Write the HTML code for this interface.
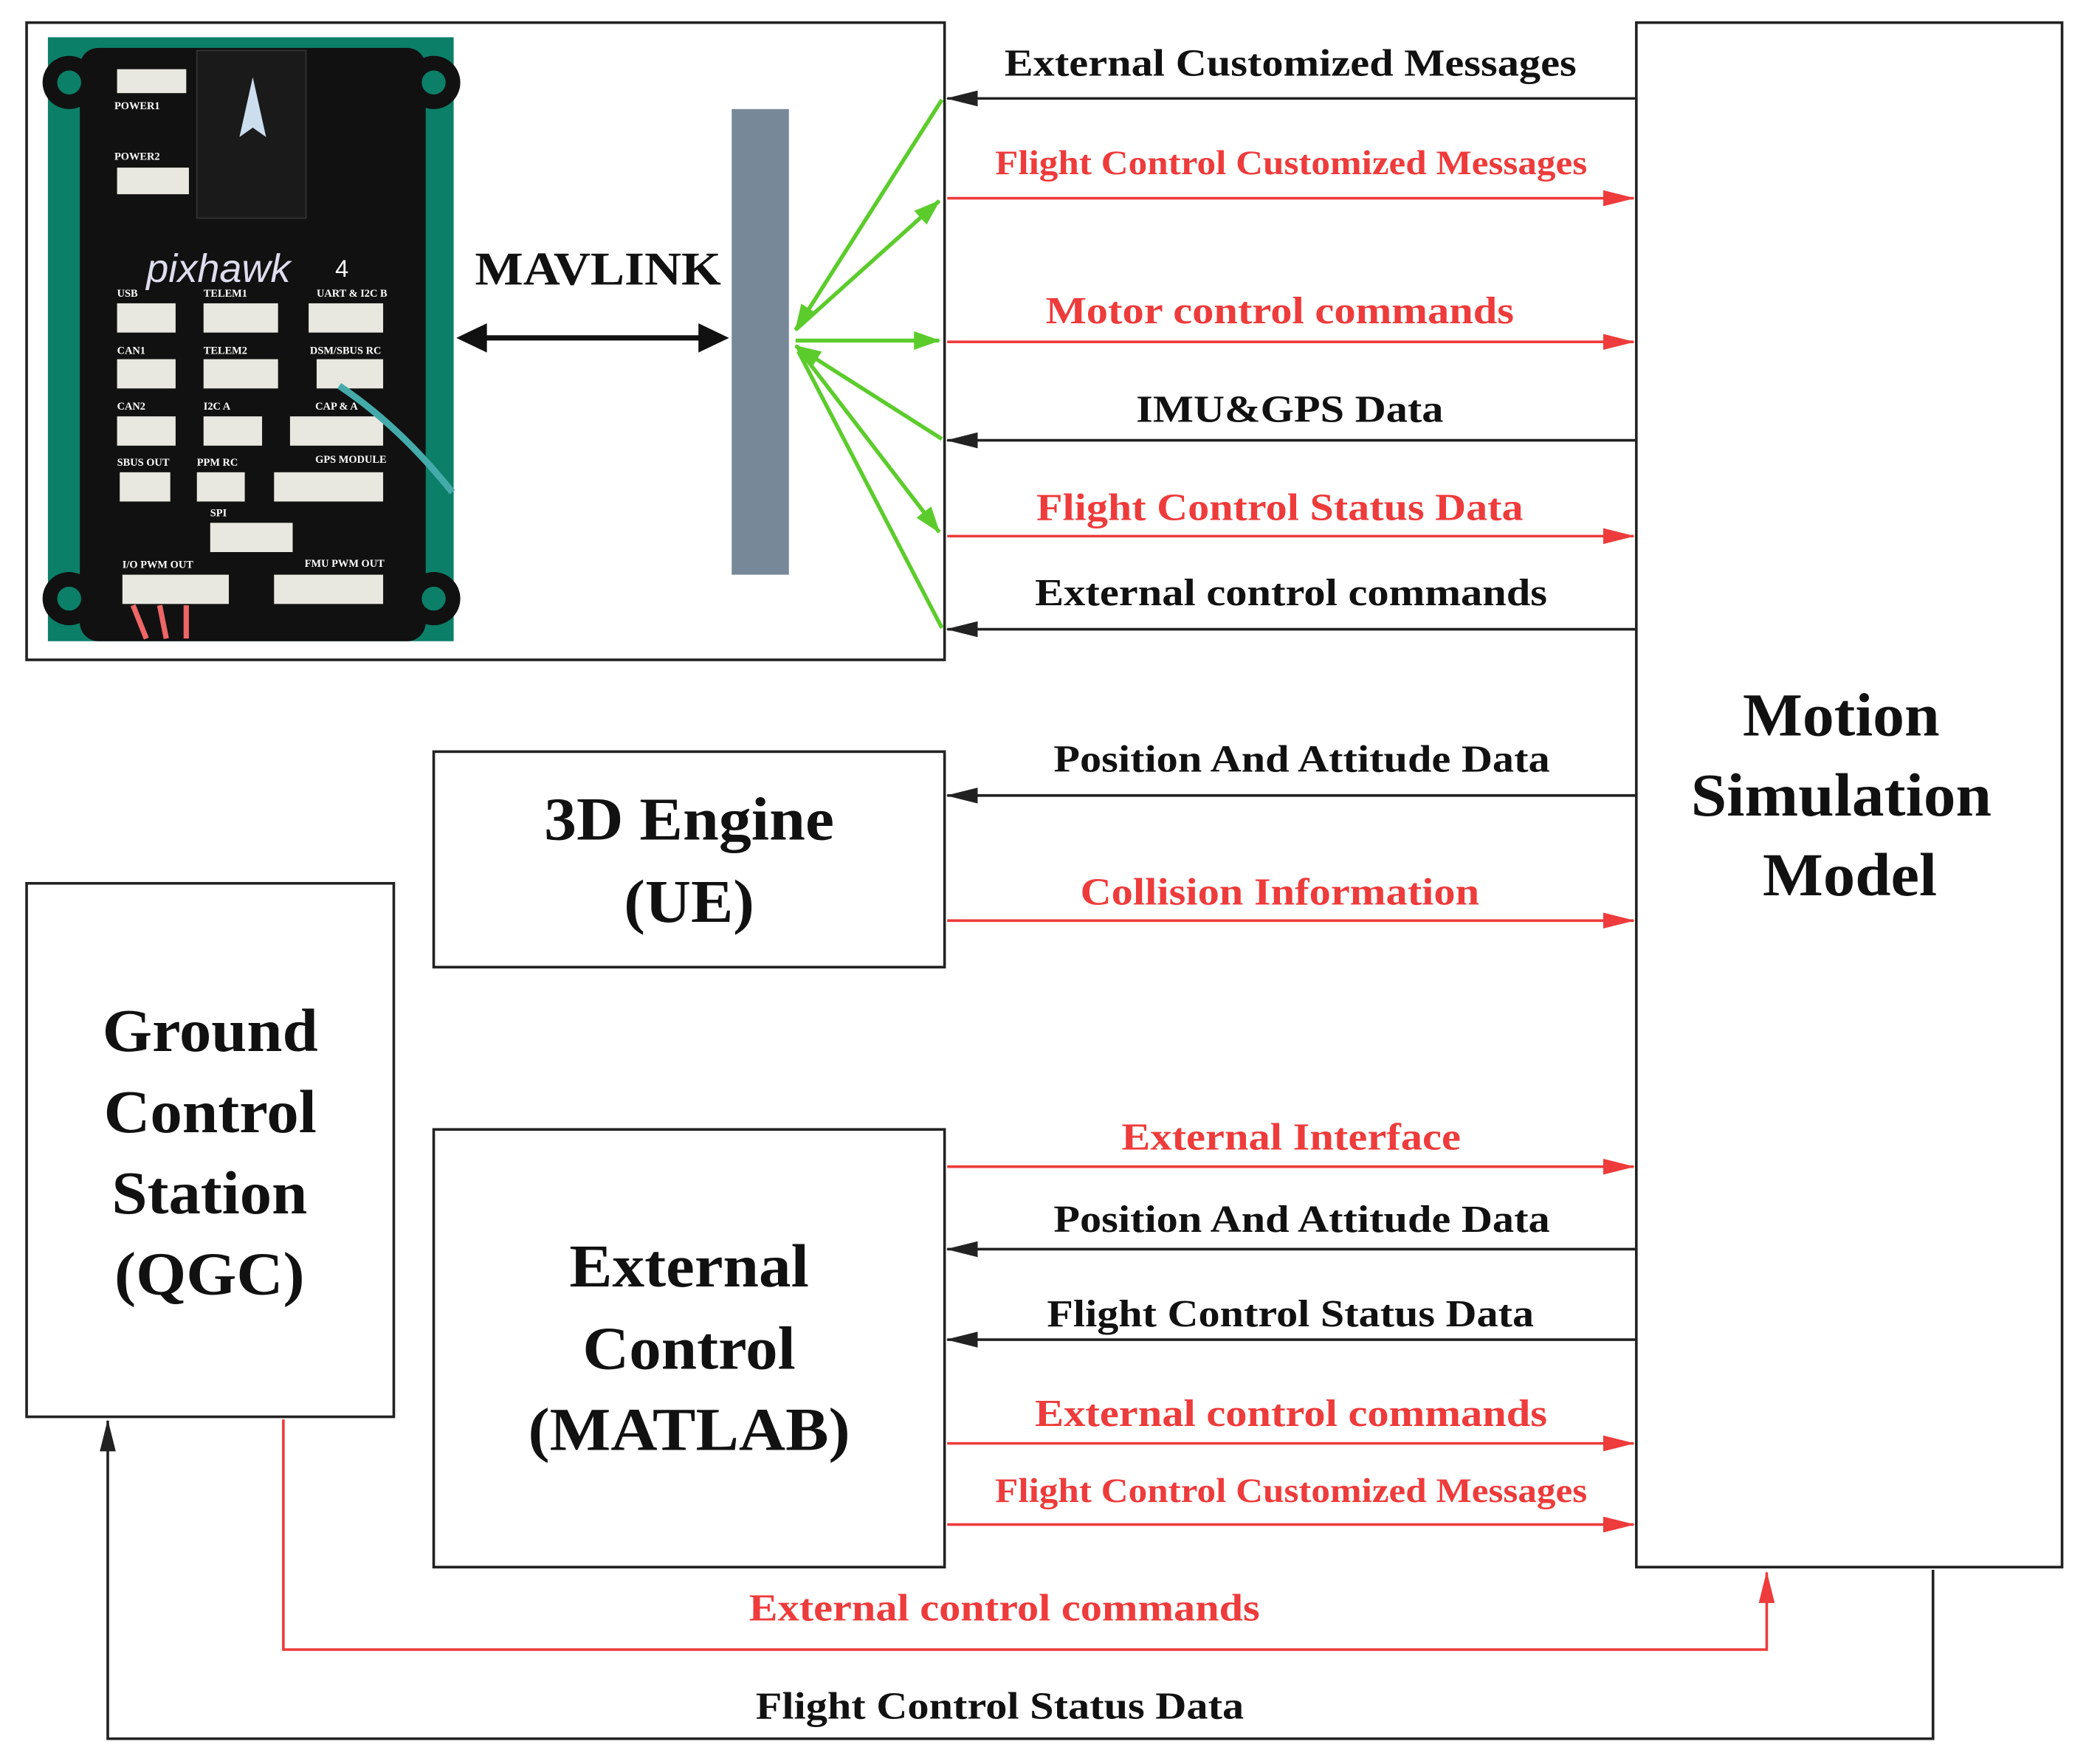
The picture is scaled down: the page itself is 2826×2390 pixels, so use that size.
<!DOCTYPE html>
<html><head><meta charset="utf-8"><style>
html,body{margin:0;padding:0;background:#fff;}
svg{display:block;}
text{font-family:"Liberation Serif",serif;font-weight:bold;}
.k{fill:#111;} .r{fill:#ee3b3b;}
.s{font-family:"Liberation Sans",sans-serif;font-weight:normal;fill:#fff;font-size:8px;}
</style></head><body>
<svg width="2826" height="2390" viewBox="0 0 1568 1326" preserveAspectRatio="none" xmlns="http://www.w3.org/2000/svg">
<defs>
<marker id="ar" markerWidth="24" markerHeight="12" refX="23" refY="6" orient="auto" markerUnits="userSpaceOnUse"><path d="M0,0 L24,6 L0,12 Z" fill="#ee3b3b"/></marker>
<marker id="ak" markerWidth="24" markerHeight="12" refX="23" refY="6" orient="auto" markerUnits="userSpaceOnUse"><path d="M0,0 L24,6 L0,12 Z" fill="#222"/></marker>
<marker id="ag" markerWidth="20" markerHeight="14" refX="19" refY="7" orient="auto" markerUnits="userSpaceOnUse"><path d="M0,0 L20,7 L0,14 Z" fill="#5ccc2c"/></marker>
</defs>
<rect width="1568" height="1326" fill="#fff"/>
<rect x="20" y="17" width="690" height="479" fill="none" stroke="#222" stroke-width="2"/>
<!-- pixhawk photo -->
<rect x="36" y="28" width="305" height="454" fill="#0b7f68"/>
<rect x="60" y="36" width="260" height="446" rx="14" fill="#111"/>
<circle cx="52" cy="62" r="20" fill="#111"/><circle cx="52" cy="62" r="9" fill="#0b7f68"/>
<circle cx="326" cy="62" r="20" fill="#111"/><circle cx="326" cy="62" r="9" fill="#0b7f68"/>
<circle cx="52" cy="450" r="20" fill="#111"/><circle cx="52" cy="450" r="9" fill="#0b7f68"/>
<circle cx="326" cy="450" r="20" fill="#111"/><circle cx="326" cy="450" r="9" fill="#0b7f68"/>
<rect x="148" y="38" width="82" height="126" fill="#1a1a1a" stroke="#333"/>
<path d="M190,58 L180,103 L190,96 L200,103 Z" fill="#cde"/>
<text x="110" y="212" style="font-family:'Liberation Sans',sans-serif;font-style:italic;font-weight:normal;font-size:30px" fill="#dde">pixhawk</text>
<text x="252" y="208" class="s" style="font-size:18px">4</text>
<g fill="#e8e8e0">
<rect x="88" y="52" width="52" height="18"/><rect x="88" y="126" width="54" height="20"/>
<rect x="88" y="228" width="44" height="22"/><rect x="153" y="228" width="56" height="22"/><rect x="232" y="228" width="56" height="22"/>
<rect x="88" y="270" width="44" height="22"/><rect x="153" y="270" width="56" height="22"/><rect x="238" y="270" width="50" height="22"/>
<rect x="88" y="313" width="44" height="22"/><rect x="153" y="313" width="44" height="22"/><rect x="218" y="313" width="70" height="22"/>
<rect x="90" y="355" width="38" height="22"/><rect x="148" y="355" width="36" height="22"/><rect x="206" y="355" width="82" height="22"/>
<rect x="158" y="393" width="62" height="22"/>
<rect x="92" y="432" width="80" height="22"/><rect x="206" y="432" width="82" height="22"/>
</g>
<path d="M255,290 Q300,320 340,370" stroke="#4aa" stroke-width="5" fill="none"/>
<path d="M100,455 L110,480 M120,455 L125,480 M140,455 L140,480" stroke="#e66" stroke-width="4"/>
<g class="s"><text x="86" y="82">POWER1</text><text x="86" y="120">POWER2</text><text x="88" y="223">USB</text><text x="153" y="223">TELEM1</text><text x="238" y="223">UART &amp; I2C B</text>
<text x="88" y="266">CAN1</text><text x="153" y="266">TELEM2</text><text x="233" y="266">DSM/SBUS RC</text><text x="88" y="308">CAN2</text><text x="153" y="308">I2C A</text><text x="237" y="308">CAP &amp; A</text>
<text x="88" y="350">SBUS OUT</text><text x="148" y="350">PPM RC</text><text x="237" y="348">GPS MODULE</text><text x="158" y="388">SPI</text><text x="92" y="427">I/O PWM OUT</text><text x="229" y="426">FMU PWM OUT</text></g>
<!-- MAVLINK -->
<text x="357" y="214" class="k" font-size="35" textLength="185" lengthAdjust="spacingAndGlyphs">MAVLINK</text>
<line x1="365" y1="254" x2="526" y2="254" stroke="#111" stroke-width="4"/>
<path d="M343,254 L366,243 L366,265 Z M548,254 L525,243 L525,265 Z" fill="#111"/>
<rect x="550" y="82" width="43" height="350" fill="#778899"/>
<g stroke="#5ccc2c" stroke-width="3" fill="none">
<line x1="708" y1="75" x2="598" y2="248" marker-end="url(#ag)"/>
<line x1="598" y1="248" x2="706" y2="151" marker-end="url(#ag)"/>
<line x1="598" y1="256" x2="706" y2="256" marker-end="url(#ag)"/>
<line x1="708" y1="330" x2="598" y2="260" marker-end="url(#ag)"/>
<line x1="600" y1="262" x2="706" y2="400" marker-end="url(#ag)"/>
<line x1="708" y1="472" x2="600" y2="264"/>
</g>
<rect x="1230" y="17" width="320" height="1161" fill="none" stroke="#222" stroke-width="2"/>
<g class="k" font-size="46" lengthAdjust="spacingAndGlyphs">
<text x="1310" y="553" textLength="148" lengthAdjust="spacingAndGlyphs">Motion</text>
<text x="1271" y="613" textLength="226" lengthAdjust="spacingAndGlyphs">Simulation</text>
<text x="1325" y="673" textLength="131" lengthAdjust="spacingAndGlyphs">Model</text>
<text x="409" y="631" textLength="218" lengthAdjust="spacingAndGlyphs">3D Engine</text>
<text x="469" y="693" textLength="98" lengthAdjust="spacingAndGlyphs">(UE)</text>
<text x="428" y="967" textLength="180" lengthAdjust="spacingAndGlyphs">External</text>
<text x="438" y="1029" textLength="160" lengthAdjust="spacingAndGlyphs">Control</text>
<text x="397" y="1090" textLength="242" lengthAdjust="spacingAndGlyphs">(MATLAB)</text>
<text x="77" y="790" textLength="162" lengthAdjust="spacingAndGlyphs">Ground</text>
<text x="78" y="851" textLength="160" lengthAdjust="spacingAndGlyphs">Control</text>
<text x="84" y="912" textLength="147" lengthAdjust="spacingAndGlyphs">Station</text>
<text x="86" y="973" textLength="143" lengthAdjust="spacingAndGlyphs">(QGC)</text>
</g>
<rect x="326" y="565" width="384" height="162" fill="none" stroke="#222" stroke-width="2"/>
<rect x="326" y="849" width="384" height="329" fill="none" stroke="#222" stroke-width="2"/>
<rect x="20" y="664" width="276" height="401" fill="none" stroke="#222" stroke-width="2"/>
<g stroke-width="2" fill="none">
<line x1="1229" y1="74" x2="712" y2="74" stroke="#222" marker-end="url(#ak)"/>
<line x1="712" y1="149" x2="1228" y2="149" stroke="#ee3b3b" marker-end="url(#ar)"/>
<line x1="712" y1="257" x2="1228" y2="257" stroke="#ee3b3b" marker-end="url(#ar)"/>
<line x1="1229" y1="331" x2="712" y2="331" stroke="#222" marker-end="url(#ak)"/>
<line x1="712" y1="403" x2="1228" y2="403" stroke="#ee3b3b" marker-end="url(#ar)"/>
<line x1="1229" y1="473" x2="712" y2="473" stroke="#222" marker-end="url(#ak)"/>
<line x1="1229" y1="598" x2="712" y2="598" stroke="#222" marker-end="url(#ak)"/>
<line x1="712" y1="692" x2="1228" y2="692" stroke="#ee3b3b" marker-end="url(#ar)"/>
<line x1="712" y1="877" x2="1228" y2="877" stroke="#ee3b3b" marker-end="url(#ar)"/>
<line x1="1229" y1="939" x2="712" y2="939" stroke="#222" marker-end="url(#ak)"/>
<line x1="1229" y1="1007" x2="712" y2="1007" stroke="#222" marker-end="url(#ak)"/>
<line x1="712" y1="1085" x2="1228" y2="1085" stroke="#ee3b3b" marker-end="url(#ar)"/>
<line x1="712" y1="1146" x2="1228" y2="1146" stroke="#ee3b3b" marker-end="url(#ar)"/>
<polyline points="213,1067 213,1240 1328,1240 1328,1182" stroke="#ee3b3b" marker-end="url(#ar)"/>
<polyline points="1453,1180 1453,1307 81,1307 81,1068" stroke="#222" marker-end="url(#ak)"/>
</g>
<g font-size="29">
<text x="755" y="57" class="k" textLength="430" lengthAdjust="spacingAndGlyphs">External Customized Messages</text>
<text x="748" y="131" class="r" font-size="26" textLength="445" lengthAdjust="spacingAndGlyphs">Flight Control Customized Messages</text>
<text x="786" y="243" class="r" textLength="352" lengthAdjust="spacingAndGlyphs">Motor control commands</text>
<text x="854" y="317" class="k" textLength="231" lengthAdjust="spacingAndGlyphs">IMU&amp;GPS Data</text>
<text x="779" y="391" class="r" textLength="366" lengthAdjust="spacingAndGlyphs">Flight Control Status Data</text>
<text x="778" y="455" class="k" textLength="385" lengthAdjust="spacingAndGlyphs">External control commands</text>
<text x="792" y="580" class="k" textLength="373" lengthAdjust="spacingAndGlyphs">Position And Attitude Data</text>
<text x="812" y="680" class="r" textLength="300" lengthAdjust="spacingAndGlyphs">Collision Information</text>
<text x="843" y="864" class="r" textLength="255" lengthAdjust="spacingAndGlyphs">External Interface</text>
<text x="792" y="926" class="k" textLength="373" lengthAdjust="spacingAndGlyphs">Position And Attitude Data</text>
<text x="787" y="997" class="k" textLength="366" lengthAdjust="spacingAndGlyphs">Flight Control Status Data</text>
<text x="778" y="1072" class="r" textLength="385" lengthAdjust="spacingAndGlyphs">External control commands</text>
<text x="748" y="1129" class="r" font-size="26" textLength="445" lengthAdjust="spacingAndGlyphs">Flight Control Customized Messages</text>
<text x="563" y="1218" class="r" textLength="384" lengthAdjust="spacingAndGlyphs">External control commands</text>
<text x="568" y="1292" class="k" textLength="367" lengthAdjust="spacingAndGlyphs">Flight Control Status Data</text>
</g>
</svg>
</body></html>
